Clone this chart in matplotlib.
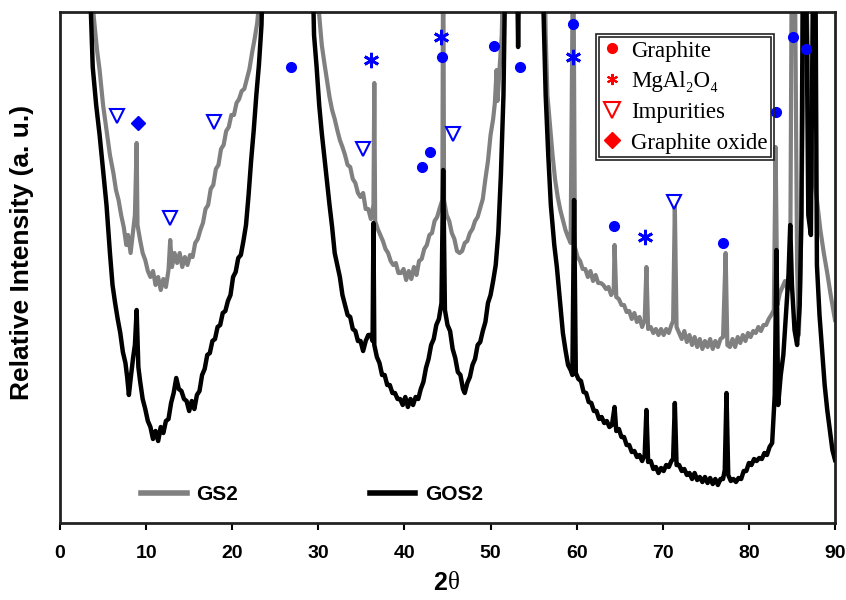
import numpy as np
import matplotlib.pyplot as plt
from matplotlib.lines import Line2D
from matplotlib.patches import Rectangle

# XRD patterns: (2theta, relative intensity); values > 503 run off the top
gs2_points = [
    (3.4, 600), (3.9, 500), (4.3, 465), (4.6, 445), (5.0, 410), (5.4, 385), (5.8, 360), (6.2, 342),
    (6.5, 325), (6.8, 315), (7.1, 300), (7.4, 288), (7.7, 270), (7.9, 280), (8.2, 262), (8.5, 285),
    (8.7, 300), (8.9, 372), (9.0, 290), (9.3, 275), (9.6, 262), (9.9, 255), (10.2, 244), (10.5, 238),
    (10.8, 244), (11.1, 230), (11.4, 238), (11.7, 225), (12.0, 236), (12.3, 228), (12.6, 245), (12.8, 275),
    (13.0, 248), (13.3, 262), (13.6, 252), (13.9, 262), (14.2, 248), (14.5, 258), (14.8, 250), (15.1, 260),
    (15.4, 258), (15.7, 272), (16.0, 276), (16.3, 285), (16.6, 292), (16.9, 306), (17.2, 310), (17.5, 326),
    (17.8, 330), (18.1, 346), (18.4, 350), (18.7, 366), (19.0, 370), (19.3, 384), (19.6, 388), (19.9, 400),
    (20.2, 400), (20.5, 412), (20.8, 416), (21.1, 424), (21.4, 426), (21.7, 436), (22.0, 446), (22.3, 462),
    (22.6, 476), (22.9, 492), (23.2, 520), (23.5, 600),
    (29.8, 600), (30.1, 500), (30.4, 470), (30.7, 452), (31.0, 435), (31.3, 418), (31.6, 405), (31.9, 396),
    (32.2, 385), (32.5, 375), (32.8, 368), (33.1, 360), (33.4, 350), (33.7, 348), (34.0, 336), (34.3, 332),
    (34.6, 322), (34.9, 318), (35.2, 322), (35.5, 306), (35.8, 306), (36.1, 296), (36.4, 310), (36.5, 432),
    (36.6, 294), (36.9, 286), (37.2, 280), (37.5, 274), (37.8, 266), (38.1, 262), (38.4, 254), (38.7, 250),
    (39.0, 252), (39.3, 242), (39.6, 242), (39.9, 246), (40.2, 235), (40.5, 244), (40.8, 236), (41.1, 248),
    (41.4, 240), (41.7, 254), (42.0, 256), (42.3, 266), (42.6, 270), (42.9, 280), (43.2, 282), (43.5, 294),
    (43.8, 298), (44.1, 307), (44.4, 315), (44.5, 600), (44.6, 315), (44.9, 300), (45.2, 294), (45.5, 282),
    (45.8, 276), (46.1, 264), (46.4, 262), (46.7, 264), (47.0, 272), (47.3, 274), (47.6, 282), (47.9, 286),
    (48.2, 294), (48.5, 298), (48.8, 307), (49.1, 316), (49.4, 336), (49.7, 354), (50.0, 380), (50.3, 396),
    (50.5, 412), (50.7, 445), (50.8, 414), (51.0, 440), (51.3, 480), (51.6, 600),
    (56.2, 600), (56.4, 480), (56.6, 420), (56.9, 390), (57.2, 360), (57.5, 335), (57.8, 318), (58.1, 305),
    (58.4, 295), (58.7, 285), (59.0, 278), (59.3, 272), (59.6, 600), (59.8, 268), (60.1, 258), (60.4, 254),
    (60.7, 246), (61.0, 246), (61.3, 238), (61.6, 244), (61.9, 234), (62.2, 240), (62.5, 232), (62.8, 232),
    (63.1, 230), (63.4, 226), (63.7, 228), (64.0, 220), (64.3, 224), (64.4, 270), (64.6, 218), (64.9, 216),
    (65.2, 210), (65.5, 210), (65.8, 203), (66.1, 204), (66.4, 196), (66.7, 202), (67.0, 193), (67.3, 198),
    (67.6, 188), (67.9, 195), (68.1, 248), (68.3, 186), (68.6, 188), (68.9, 182), (69.2, 186), (69.5, 180),
    (69.8, 186), (70.1, 180), (70.4, 186), (70.7, 182), (71.0, 190), (71.2, 194), (71.4, 310), (71.6, 188),
    (71.9, 182), (72.2, 176), (72.5, 184), (72.8, 173), (73.1, 180), (73.4, 170), (73.7, 178), (74.0, 168),
    (74.3, 176), (74.6, 166), (74.9, 174), (75.2, 168), (75.5, 176), (75.8, 166), (76.1, 174), (76.4, 168),
    (76.7, 176), (77.0, 178), (77.3, 262), (77.5, 170), (77.8, 168), (78.1, 176), (78.4, 168), (78.7, 178),
    (79.0, 172), (79.3, 180), (79.6, 174), (79.9, 182), (80.2, 178), (80.5, 184), (80.8, 182), (81.1, 188),
    (81.4, 184), (81.7, 190), (82.0, 190), (82.3, 196), (82.6, 200), (82.9, 205), (83.1, 368), (83.3, 210),
    (83.6, 222), (83.9, 228), (84.2, 234), (84.5, 225), (84.8, 242), (85.0, 600), (85.3, 600), (85.6, 250),
    (85.8, 180), (86.0, 240), (86.3, 420), (86.5, 600), (86.8, 480), (87.1, 400), (87.5, 340), (87.9, 315),
    (88.3, 285), (88.7, 262), (89.1, 242), (89.5, 220), (90.0, 195),
]

gos2_points = [
    (3.2, 600), (3.6, 500), (3.8, 448), (4.2, 410), (4.6, 380), (5.0, 345), (5.4, 310), (5.8, 262),
    (6.1, 230), (6.4, 212), (6.7, 196), (7.0, 182), (7.3, 163), (7.6, 152), (7.8, 138), (8.0, 120),
    (8.2, 136), (8.5, 158), (8.7, 170), (8.9, 205), (9.1, 148), (9.3, 134), (9.6, 116), (9.9, 106),
    (10.2, 94), (10.5, 88), (10.8, 76), (11.1, 84), (11.4, 74), (11.7, 88), (12.0, 82), (12.3, 94),
    (12.6, 96), (12.9, 112), (13.2, 122), (13.5, 137), (13.8, 126), (14.1, 124), (14.4, 116), (14.7, 114),
    (15.0, 104), (15.3, 114), (15.6, 106), (15.9, 120), (16.2, 124), (16.5, 140), (16.8, 146), (17.1, 160),
    (17.4, 162), (17.7, 174), (18.0, 176), (18.3, 188), (18.6, 190), (18.9, 202), (19.2, 204), (19.5, 214),
    (19.8, 220), (20.1, 238), (20.4, 243), (20.7, 257), (21.0, 260), (21.3, 274), (21.6, 290), (21.9, 320),
    (22.2, 355), (22.5, 385), (22.8, 420), (23.1, 450), (23.4, 490), (23.7, 600),
    (29.2, 600), (29.5, 480), (29.8, 448), (30.1, 410), (30.4, 382), (30.7, 358), (31.0, 335), (31.3, 310),
    (31.6, 288), (31.9, 262), (32.2, 250), (32.5, 238), (32.8, 220), (33.1, 210), (33.4, 200), (33.7, 198),
    (34.0, 186), (34.3, 184), (34.6, 174), (34.9, 174), (35.2, 164), (35.5, 174), (35.8, 180), (36.1, 180),
    (36.3, 174), (36.4, 292), (36.5, 170), (36.8, 158), (37.1, 152), (37.4, 140), (37.7, 140), (38.0, 130),
    (38.3, 130), (38.6, 122), (38.9, 122), (39.2, 116), (39.5, 116), (39.8, 110), (40.1, 118), (40.4, 108),
    (40.7, 116), (41.0, 110), (41.3, 118), (41.6, 116), (41.9, 126), (42.2, 133), (42.5, 147), (42.8, 156),
    (43.1, 170), (43.4, 176), (43.7, 190), (44.0, 196), (44.3, 212), (44.5, 345), (44.7, 205), (45.0, 190),
    (45.3, 184), (45.6, 166), (45.9, 157), (46.2, 143), (46.5, 140), (46.8, 126), (47.0, 122), (47.3, 132),
    (47.6, 138), (47.9, 150), (48.2, 156), (48.5, 170), (48.8, 173), (49.1, 184), (49.4, 193), (49.7, 212),
    (50.0, 220), (50.3, 234), (50.6, 250), (50.9, 282), (51.2, 340), (51.5, 420), (51.8, 600), (53.0, 600),
    (53.2, 468), (53.4, 600), (55.9, 600),
    (56.1, 520), (56.4, 420), (56.7, 360), (57.0, 310), (57.4, 270), (57.7, 248), (58.0, 220), (58.4, 182),
    (58.7, 165), (59.0, 150), (59.3, 145), (59.5, 140), (59.7, 315), (59.9, 142), (60.2, 136), (60.5, 134),
    (60.8, 123), (61.1, 122), (61.4, 113), (61.7, 112), (62.0, 104), (62.3, 104), (62.6, 96), (62.9, 98),
    (63.2, 92), (63.5, 94), (63.8, 88), (64.1, 90), (64.4, 108), (64.6, 84), (64.9, 86), (65.2, 78),
    (65.5, 78), (65.8, 70), (66.1, 70), (66.4, 63), (66.7, 64), (67.0, 58), (67.3, 60), (67.6, 54),
    (67.9, 60), (68.1, 105), (68.3, 53), (68.6, 54), (68.9, 46), (69.2, 48), (69.5, 42), (69.8, 47),
    (70.1, 44), (70.4, 50), (70.7, 48), (71.0, 54), (71.2, 56), (71.4, 112), (71.6, 50), (71.9, 50),
    (72.2, 44), (72.5, 46), (72.8, 40), (73.1, 42), (73.4, 36), (73.7, 42), (74.0, 35), (74.3, 38),
    (74.6, 33), (74.9, 38), (75.2, 32), (75.5, 37), (75.8, 31), (76.1, 36), (76.4, 30), (76.7, 36),
    (77.0, 36), (77.2, 45), (77.4, 122), (77.6, 40), (77.9, 34), (78.2, 36), (78.5, 33), (78.8, 37),
    (79.1, 36), (79.4, 44), (79.7, 44), (80.0, 52), (80.3, 50), (80.6, 56), (80.9, 54), (81.2, 57),
    (81.5, 56), (81.8, 62), (82.1, 60), (82.4, 68), (82.7, 72), (83.0, 120), (83.2, 265), (83.4, 110),
    (83.7, 140), (84.0, 160), (84.3, 200), (84.6, 240), (84.8, 290), (85.0, 230), (85.3, 185), (85.6, 170),
    (85.9, 210), (86.1, 300), (86.3, 600), (86.6, 600), (86.9, 300), (87.2, 280), (87.5, 600), (87.7, 600),
    (87.9, 250), (88.2, 200), (88.5, 165), (88.8, 130), (89.1, 105), (89.4, 85), (89.7, 65), (90.0, 55),
]

# phase markers: (2theta, height)
graphite_marks = [(26.8, 448), (44.4, 458), (50.4, 469), (53.4, 448), (59.6, 491), (42.0, 348),
                  (43.0, 363), (64.3, 289), (77.0, 272), (83.2, 403), (85.1, 478), (86.6, 466)]
spinel_marks = [(36.1, 455), (44.3, 478), (59.6, 458), (67.9, 278)]
impurity_marks = [(6.6, 399), (17.9, 393), (12.8, 297), (35.2, 366), (45.6, 381), (71.3, 313)]
oxide_marks = [(9.1, 392)]

xticks = [0, 10, 20, 30, 40, 50, 60, 70, 80, 90]

gs2 = np.array(gs2_points)
gos2 = np.array(gos2_points)

fig = plt.figure(figsize=(8.46, 6), dpi=100)
ax = fig.add_axes([60 / 846, 77 / 600, 775 / 846, 511 / 600])

l_gs2, = ax.plot(gs2[:, 0], gs2[:, 1], color="#808080", linewidth=3.0, label="GS2", zorder=2)
l_gos2, = ax.plot(gos2[:, 0], gos2[:, 1], color="black", linewidth=3.2, label="GOS2", zorder=3)

blue = "#0000ff"
g = np.array(graphite_marks)
s = np.array(spinel_marks)
im = np.array(impurity_marks)
ox = np.array(oxide_marks)
ax.plot(g[:, 0], g[:, 1], "o", color=blue, markersize=7, zorder=4)
ax.plot(s[:, 0], s[:, 1], linestyle="none", marker=(6, 2, 0), color=blue,
        markersize=11, markeredgewidth=2, zorder=4)
ax.plot(im[:, 0], im[:, 1], "v", markerfacecolor="white", markeredgecolor=blue,
        markersize=10, markeredgewidth=1.5, zorder=4)
ax.plot(ox[:, 0], ox[:, 1], "D", color=blue, markersize=7, zorder=4)

ax.set_xlim(0, 90)
ax.set_ylim(-8, 503)
ax.set_xticks(xticks)
ax.set_xticklabels([str(t) for t in xticks], fontsize=14, fontweight="bold",
                   family="Liberation Sans")
ax.set_yticks([])
ax.tick_params(axis="x", direction="out", length=5, width=1.5, pad=11)
for sp in ax.spines.values():
    sp.set_linewidth(2)
    sp.set_color("#222222")

ax.set_ylabel("Relative Intensity (a. u.)", fontsize=19, fontweight="bold",
              family="Liberation Sans")
ax.yaxis.set_label_coords(-0.034, 0.530)

fig.text(447 / 846, 1 - 583 / 600, "2", ha="right", va="center", fontsize=18,
         fontweight="bold", family="Liberation Sans")
fig.text(448 / 846, 1 - 583 / 600, "θ", ha="left", va="center", fontsize=18,
         family="Liberation Serif")

# phase legend (red symbols, double frame)
red = "#ff0000"
handles = [
    Line2D([], [], linestyle="none", marker="o", color=red, markersize=7),
    Line2D([], [], linestyle="none", marker=(6, 2, 0), color=red, markersize=8, markeredgewidth=1.5),
    Line2D([], [], linestyle="none", marker="v", markerfacecolor="white", markeredgecolor=red,
           markersize=11, markeredgewidth=1.5),
    Line2D([], [], linestyle="none", marker="D", color=red, markersize=8),
]
labels = ["Graphite", "MgAl₂O₄", "Impurities", "Graphite oxide"]
leg = ax.legend(handles, labels, loc="upper left", bbox_to_anchor=(0.6955, 0.951),
                borderaxespad=0, borderpad=0.15, handlelength=0.8, handletextpad=0.45,
                labelspacing=0.42, fancybox=False, framealpha=1, edgecolor="#222222",
                prop={"family": ["Liberation Serif", "DejaVu Serif"], "size": 16.5})
leg.get_frame().set_linewidth(1.2)
ax.add_artist(leg)

# sample legend at the bottom
leg2 = ax.legend([l_gs2, l_gos2], ["GS2", "GOS2"], loc="lower left", ncol=2,
                 bbox_to_anchor=(0.094, 0.02), borderaxespad=0, frameon=False,
                 handlelength=2.2, handletextpad=0.45, columnspacing=6.3,
                 prop={"family": "Liberation Sans", "weight": "bold", "size": 15})
for ln in leg2.get_lines():
    ln.set_linewidth(4)

fig.canvas.draw()
bb = leg.get_frame().get_window_extent()
inv = fig.transFigure.inverted()
(x0, y0), (x1, y1) = inv.transform([(bb.x0 - 3, bb.y0 - 3), (bb.x1 + 3, bb.y1 + 3)])
fig.add_artist(Rectangle((x0, y0), x1 - x0, y1 - y0, transform=fig.transFigure,
                         fill=False, edgecolor="#222222", linewidth=1.2, zorder=10))

fig.savefig("out.png", dpi=100)
